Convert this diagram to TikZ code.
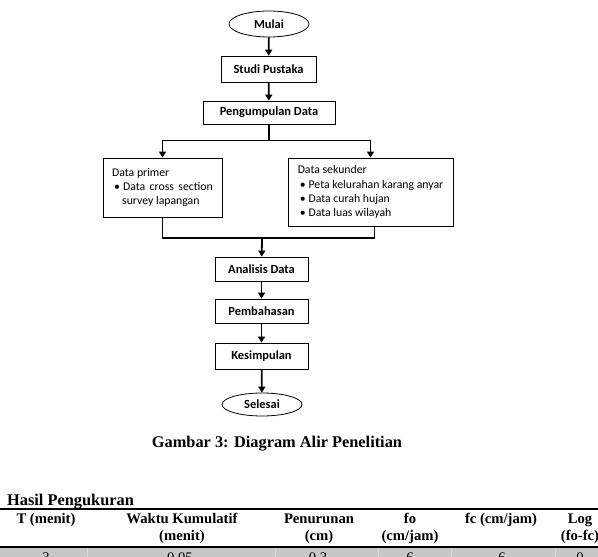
\documentclass[tikz,border=0pt]{standalone}
\usepackage{fontspec}
\setmainfont{Liberation Serif}
\newfontfamily\calibri{Carlito}
\usepackage{tikz}
\usetikzlibrary{arrows.meta,shapes.geometric}

\tikzset{
  kotak/.style={draw, line width=0.8bp, inner sep=0pt, font=\calibri\bfseries\fontsize{12.5}{14}\selectfont},
  terminal/.style={kotak, ellipse},
  daftar/.style={draw, line width=0.8bp, inner sep=0pt, align=left, font=\calibri\fontsize{11.8}{14.2}\selectfont},
  garis/.style={line width=1.8bp, line join=miter},
  alir/.style={garis, -{Triangle[width=7bp,length=6bp]}},
  judul/.style={inner sep=0pt, font=\bfseries\fontsize{16.4}{18}\selectfont},
  kepala/.style={inner sep=0pt, anchor=base, font=\bfseries\fontsize{14.7}{17}\selectfont},
  isi/.style={inner sep=0pt, anchor=base, font=\fontsize{14.7}{17}\selectfont}
}

\begin{document}
\begin{tikzpicture}[x=1bp, y=-1bp]
    \useasboundingbox (0,0) rectangle (598,557);
    \clip (0,0) rectangle (598,557);

    \node[terminal, minimum width=80bp, minimum height=26bp] (mulai) at (269,24) {Mulai};
    \node[kotak, minimum width=95bp, minimum height=26bp] (studi) at (268.5,69) {Studi Pustaka};
    \node[kotak, minimum width=132bp, minimum height=23bp] (kumpul) at (269,112.5) {Pengumpulan Data};
    \node[daftar, minimum width=119bp, minimum height=59bp] (primer) at (162.5,187.5)
        {Data primer\\\hspace*{2bp}•\hspace{3bp}Data\hspace{4.5bp}cross\hspace{4.5bp}section\\\hspace*{10bp}survey lapangan};
    \node[daftar, minimum width=165bp, minimum height=68bp] (sekunder) at (370.5,192)
        {Data sekunder\\\hspace*{2bp}•\hspace{3bp}Peta kelurahan karang anyar\\\hspace*{2bp}•\hspace{3bp}Data curah hujan\\\hspace*{2bp}•\hspace{3bp}Data luas wilayah};
    \node[kotak, minimum width=93bp, minimum height=24bp] (analisis) at (261.5,269) {Analisis Data};
    \node[kotak, minimum width=93bp, minimum height=24bp] (bahas) at (261.5,311) {Pembahasan};
    \node[kotak, minimum width=93bp, minimum height=26bp] (simpul) at (261.5,356) {Kesimpulan};
    \node[terminal, minimum width=80bp, minimum height=23bp] (selesai) at (262,404.5) {Selesai};

    \coordinate (cabang) at (269,140.5);
    \coordinate (gabung) at (262,238);

    \draw[alir] (mulai) -- (studi);
    \draw[alir] (studi) -- (kumpul);
    \draw[garis] (kumpul.south) -- (cabang);
    \draw[alir] (cabang) -| (primer.north);
    \draw[alir] (cabang) -| (sekunder.north);
    \draw[garis] (primer.south) |- (gabung);
    \draw[garis] ([xshift=4bp]sekunder.south) |- (gabung);
    \draw[alir] (gabung) -- (analisis);
    \draw[alir] (analisis) -- (bahas);
    \draw[alir] (bahas) -- (simpul);
    \draw[alir] (simpul) -- (selesai);

    \node[judul, anchor=base] (gambar) at (277,447) {Gambar 3: Diagram Alir Penelitian};
    \node[judul, anchor=base west] (hasil) at (7,505) {Hasil Pengukuran};

    \fill[black!22] (0,548) rectangle (598,557);
    \foreach \sx in {87,275,378,451,555}
        \draw[white!85!black, line width=0.6bp] (\sx,548) -- (\sx,557);
    \draw[line width=1.5bp] (0,509) -- (598,509);
    \draw[line width=1.5bp] (0,547) -- (598,547);

    \node[kepala] (kt) at (46,523.5) {T (menit)};
    \node[kepala] (kw) at (182,523.5) {Waktu Kumulatif};
    \node[kepala] (kw2) at (182,540) {(menit)};
    \node[kepala] (kp) at (319,523.5) {Penurunan};
    \node[kepala] (kp2) at (319,540) {(cm)};
    \node[kepala] (kfo) at (410,523.5) {fo};
    \node[kepala] (kfo2) at (410,540) {(cm/jam)};
    \node[kepala] (kfc) at (501,523.5) {fc (cm/jam)};
    \node[kepala] (kl) at (580,523.5) {Log};
    \node[kepala] (kl2) at (580,540) {(fo-fc)};

    \node[isi] (v1) at (46,562) {3};
    \node[isi] (v2) at (180,562) {0.05};
    \node[isi] (v3) at (318,562) {0.3};
    \node[isi] (v4) at (410,562) {6};
    \node[isi] (v5) at (502,562) {6};
    \node[isi] (v6) at (580,562) {0};
\end{tikzpicture}
\end{document}
